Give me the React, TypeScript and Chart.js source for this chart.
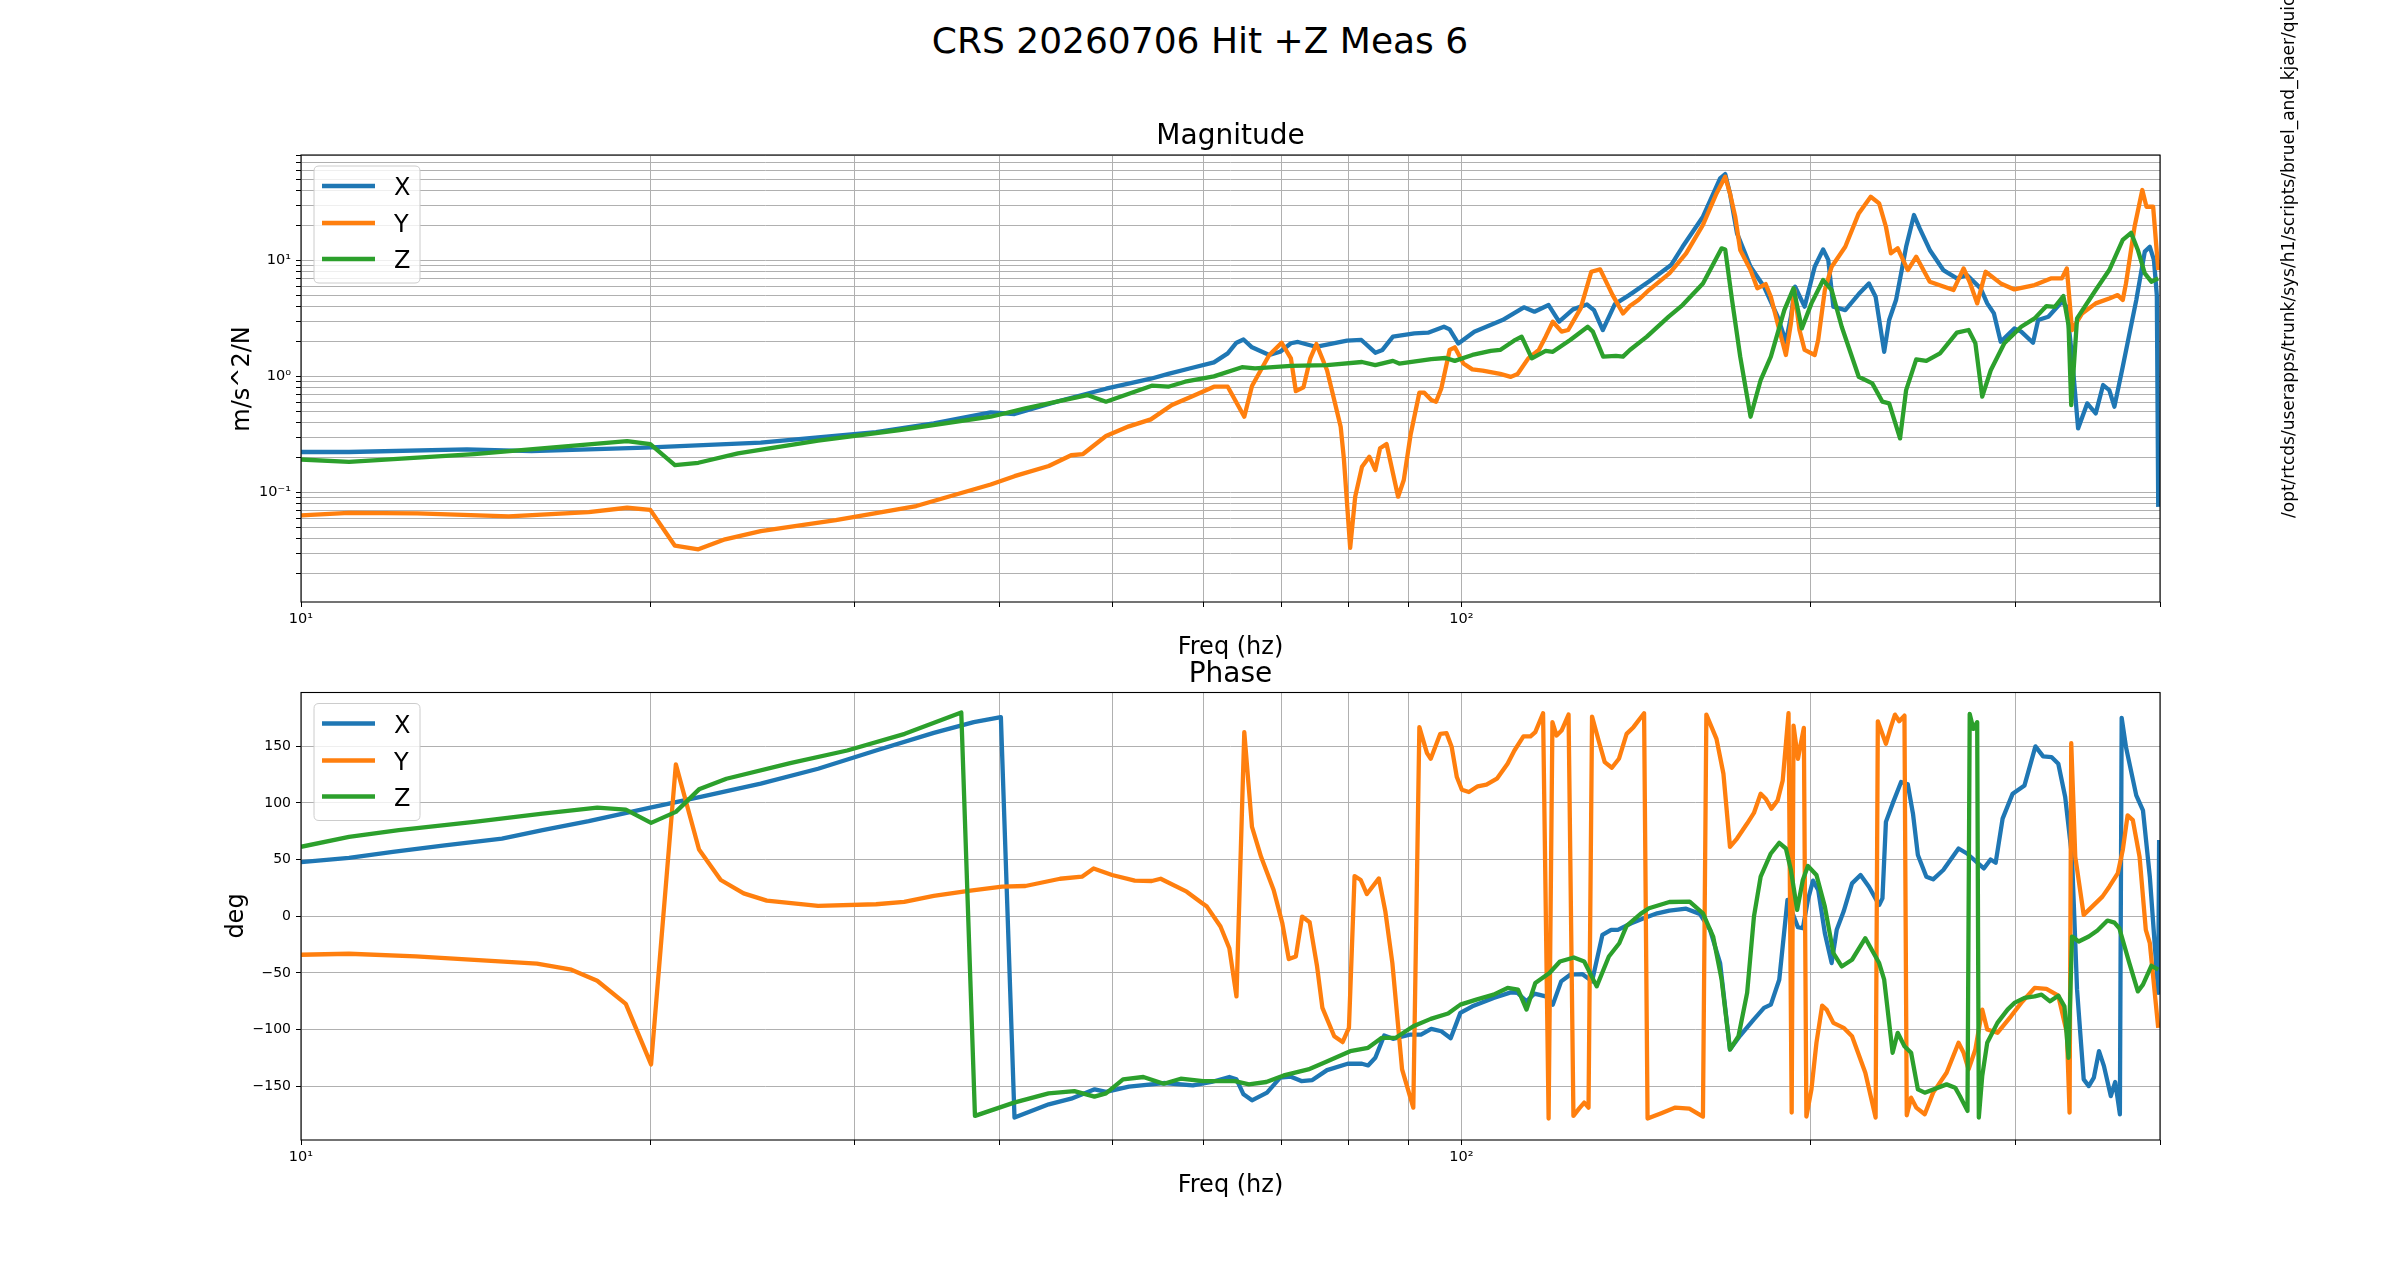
import React, { useEffect, useRef } from 'react';
import { Chart, registerables } from 'chart.js';

Chart.register(...registerables);

// ---------- series meta ----------
const seriesNames = ['X', 'Y', 'Z'];
const seriesColors = ['#1f77b4', '#ff7f0e', '#2ca02c'];

// ---------- magnitude data (m/s^2/N) ----------
const magXFreq = [10, 11.0, 13.9, 15.8, 19.8, 24.9, 27.9, 31.3, 35.1, 39.3, 41.2, 45.1, 49.4, 52.0, 54.0, 55.9, 58.3, 61.2, 62.9, 64.0, 64.9, 66.0, 68.3, 69.8, 71.3, 72.3, 74.9, 79.7, 82.0, 84.3, 85.5, 87.3, 91.1, 93.6, 96.6, 97.7, 99.4, 102.6, 108.5, 113.2, 115.6, 118.9, 121.4, 124.8, 128.3, 130.1, 132.4, 135.6, 139.5, 145.2, 151.6, 155.1, 161.5, 167.1, 168.8, 170.4, 172.8, 177.5, 182.3, 187.3, 190.4, 192.3, 193.9, 197.6, 201.6, 205.0, 207.1, 209.2, 214.2, 220.0, 224.5, 227.5, 231.4, 233.7, 236.9, 241.7, 245.5, 248.3, 253.3, 260.2, 267.3, 272.7, 280.2, 283.9, 287.7, 291.6, 299.6, 303.7, 310.9, 314.1, 320.5, 329.2, 332.5, 335.9, 340.0, 346.2, 352.1, 357.3, 361.7, 365.4, 371.5, 381.6, 388.1, 392.0, 395.2, 397.5, 398.6];
const magXVal = [0.223, 0.223, 0.235, 0.227, 0.243, 0.268, 0.298, 0.331, 0.393, 0.489, 0.474, 0.617, 0.783, 0.88, 0.955, 1.05, 1.17, 1.32, 1.58, 1.95, 2.08, 1.78, 1.53, 1.63, 1.93, 1.98, 1.80, 2.03, 2.06, 1.60, 1.69, 2.20, 2.35, 2.38, 2.68, 2.54, 1.92, 2.43, 3.06, 3.94, 3.61, 4.12, 2.96, 3.78, 4.17, 3.73, 2.51, 4.20, 5.02, 6.6, 9.11, 13.1, 23.8, 50.9, 55.5, 37.8, 17.1, 8.82, 5.93, 3.27, 1.99, 3.27, 5.93, 3.99, 8.82, 12.4, 10.1, 3.99, 3.73, 5.12, 6.33, 4.86, 1.63, 3.06, 4.55, 13.1, 24.6, 18.9, 12.3, 8.25, 7.0, 7.47, 5.74, 4.26, 3.49, 1.99, 2.59, 2.43, 1.95, 3.06, 3.27, 4.40, 3.99, 1.48, 0.356, 0.585, 0.48, 0.842, 0.762, 0.548, 1.21, 4.55, 11.9, 13.1, 10.1, 5.0, 0.075];

const magYFreq = [10, 11.0, 12.6, 15.1, 17.7, 19.1, 20.0, 21.0, 22.0, 23.2, 24.9, 28.9, 33.9, 39.3, 41.2, 44.1, 46.1, 47.2, 49.4, 51.7, 54.0, 56.3, 58.7, 61.2, 62.9, 65.0, 66.0, 68.3, 70.0, 71.3, 72.0, 73.1, 74.1, 75.0, 76.6, 78.7, 79.2, 80.2, 81.0, 82.1, 83.3, 84.3, 85.1, 86.2, 88.2, 89.2, 90.4, 92.0, 92.9, 94.2, 95.1, 96.1, 97.7, 98.7, 100.4, 102.2, 104.3, 108.0, 110.3, 111.8, 114.2, 116.6, 118.2, 119.9, 122.0, 123.6, 126.7, 129.4, 131.7, 135.0, 137.8, 139.7, 142.1, 145.1, 151.1, 156.2, 161.5, 165.9, 168.8, 170.4, 172.2, 173.9, 177.5, 179.9, 182.9, 184.8, 187.3, 190.4, 192.3, 193.6, 195.6, 197.6, 201.6, 203.0, 205.7, 208.5, 214.2, 220.0, 225.3, 229.1, 232.2, 234.5, 237.7, 242.5, 246.6, 253.3, 265.5, 270.9, 274.5, 278.3, 283.0, 291.6, 299.6, 311.9, 322.5, 329.2, 332.5, 335.9, 342.7, 352.1, 361.7, 367.8, 371.5, 373.9, 380.3, 386.2, 389.4, 394.6, 398.6];
const magYVal = [0.0633, 0.0667, 0.066, 0.062, 0.0676, 0.0737, 0.0707, 0.0347, 0.0323, 0.0394, 0.0464, 0.0577, 0.0763, 0.117, 0.138, 0.169, 0.209, 0.214, 0.306, 0.371, 0.426, 0.566, 0.677, 0.815, 0.815, 0.449, 0.825, 1.53, 1.95, 1.43, 0.747, 0.804, 1.43, 1.90, 1.13, 0.368, 0.196, 0.0333, 0.0918, 0.166, 0.203, 0.156, 0.240, 0.261, 0.0918, 0.128, 0.312, 0.723, 0.723, 0.625, 0.605, 0.788, 1.69, 1.78, 1.29, 1.15, 1.12, 1.05, 0.99, 1.05, 1.43, 1.69, 2.20, 2.96, 2.43, 2.51, 3.86, 7.98, 8.37, 5.02, 3.49, 4.04, 4.55, 5.55, 7.72, 11.5, 20.2, 37.8, 52.6, 37.8, 23.8, 12.3, 8.25, 5.74, 6.25, 4.86, 2.86, 1.53, 2.86, 5.55, 2.51, 1.69, 1.53, 2.06, 5.55, 8.82, 13.1, 25.4, 35.4, 31.0, 19.5, 11.5, 12.7, 8.25, 10.75, 6.55, 5.55, 8.53, 6.33, 4.26, 7.98, 6.33, 5.62, 6.13, 7.0, 7.0, 8.53, 2.51, 3.49, 4.26, 4.70, 5.02, 4.55, 6.33, 19.5, 40.4, 29.0, 29.0, 8.25];

const magZFreq = [10, 11.0, 14.1, 19.1, 20.0, 21.0, 22.0, 23.8, 27.9, 32.8, 39.3, 42.1, 47.6, 49.4, 54.1, 55.9, 57.8, 61.2, 64.7, 66.4, 71.3, 76.6, 82.1, 84.3, 87.3, 88.4, 94.2, 96.9, 98.7, 102.2, 106.0, 108.0, 111.0, 112.7, 115.0, 118.2, 119.9, 124.1, 128.5, 129.8, 132.5, 135.9, 137.8, 139.7, 144.5, 150.9, 155.1, 161.5, 167.6, 168.8, 171.1, 173.9, 177.5, 181.1, 184.8, 189.8, 193.3, 196.5, 200.3, 205.0, 208.5, 212.7, 220.0, 226.0, 230.6, 233.7, 238.8, 241.7, 246.6, 251.6, 258.5, 267.3, 273.6, 277.3, 281.1, 285.9, 293.7, 303.7, 311.9, 319.3, 324.7, 330.2, 333.6, 335.4, 339.3, 352.1, 361.7, 371.5, 377.7, 382.8, 388.1, 393.2, 398.6];
const magZVal = [0.192, 0.183, 0.214, 0.277, 0.261, 0.172, 0.180, 0.217, 0.279, 0.345, 0.449, 0.530, 0.690, 0.605, 0.831, 0.815, 0.90, 1.0, 1.20, 1.17, 1.23, 1.25, 1.33, 1.25, 1.36, 1.29, 1.41, 1.44, 1.36, 1.53, 1.66, 1.69, 2.03, 2.20, 1.43, 1.66, 1.63, 2.06, 2.68, 2.43, 1.48, 1.50, 1.48, 1.69, 2.20, 3.27, 4.12, 6.33, 12.7, 12.4, 4.55, 1.48, 0.449, 0.93, 1.48, 3.73, 5.74, 2.59, 4.26, 6.77, 5.55, 2.68, 0.993, 0.87, 0.605, 0.585, 0.292, 0.762, 1.40, 1.36, 1.58, 2.38, 2.51, 1.93, 0.668, 1.13, 1.93, 2.68, 3.16, 4.04, 3.98, 4.93, 2.77, 0.566, 3.16, 5.55, 8.25, 15.0, 17.3, 12.3, 7.72, 6.55, 7.0];

// ---------- phase data (deg) ----------
const phXFreq = [10, 11.0, 12.0, 13.3, 14.9, 16.15, 17.7, 20.0, 22.2, 24.9, 27.9, 31.3, 35.1, 38.0, 40.1, 41.2, 44.1, 46.1, 48.3, 49.4, 51.7, 55.4, 58.7, 60.9, 63.1, 64.0, 64.9, 66.0, 68.0, 69.8, 71.3, 72.8, 74.4, 76.6, 79.8, 82.1, 83.1, 84.3, 85.8, 87.3, 90.4, 92.3, 94.2, 96.1, 97.9, 99.8, 102.2, 106.6, 110.3, 111.8, 113.8, 115.6, 118.2, 119.9, 121.9, 124.1, 127.1, 129.6, 132.3, 134.6, 136.4, 140.1, 143.6, 147.5, 151.1, 156.2, 160.5, 163.8, 167.1, 170.4, 173.9, 178.6, 182.3, 184.8, 187.9, 191.0, 195.0, 196.9, 198.9, 200.9, 203.0, 205.7, 208.5, 210.6, 213.5, 217.1, 220.8, 224.5, 229.1, 230.6, 232.2, 235.3, 239.3, 242.5, 245.0, 247.4, 251.6, 255.0, 260.2, 268.2, 272.7, 282.0, 285.8, 288.7, 292.7, 298.6, 305.7, 312.4, 317.2, 322.5, 326.9, 331.4, 335.9, 339.3, 343.8, 347.3, 350.8, 354.4, 357.9, 362.8, 366.0, 369.4, 370.7, 373.9, 381.6, 386.7, 392.0, 398.6, 399.3];
const phXVal = [47.8, 51.6, 56.9, 62.5, 68.6, 76, 83.9, 95.9, 105.9, 117, 130.2, 146.3, 161.9, 171.3, 175.7, -177.7, -166, -161, -152.8, -155, -150.4, -147.2, -149.3, -146.3, -141.9, -144, -157.2, -162.5, -155.7, -142.5, -141.6, -145.5, -144.6, -135.8, -130.2, -130.2, -131.7, -124.9, -105.3, -108.2, -104.4, -104.4, -99.4, -101.5, -107.6, -85.3, -79.5, -72.1, -67.2, -67.7, -75.1, -68.3, -70.7, -78, -57.5, -51.6, -51, -57.5, -16.4, -12, -12, -6.2, -1.8, 2.6, 5, 6.7, 2.1, -12, -41.3, -117.6, -105.3, -91.2, -80.9, -78, -56, 14.4, -9.7, -10.6, 14.4, 31.4, 23.2, -15, -41.3, -12, 4.1, 29, 36.4, 26.1, 10, 15.8, 83.3, 99.4, 118.5, 116.4, 90.6, 54, 34.9, 32.6, 40.8, 59.8, 55.4, 42.2, 50.1, 47.2, 86.2, 108.2, 115.5, 149.9, 141.1, 140.5, 134.6, 105.3, 52.5, -64.8, -144, -149.9, -142.5, -119.1, -132.3, -158.7, -146.3, -174.8, 175.1, 149.3, 106.7, 93.5, 34.9, -67.7, 67.2];

const phYFreq = [10, 11.0, 12.56, 15.97, 17.1, 18.0, 19.05, 20.03, 21.04, 22.03, 23.0, 24.07, 25.2, 27.9, 31.3, 33.1, 35.1, 37.6, 40.2, 42.1, 45.1, 47.1, 48.2, 50.0, 52.3, 54.1, 55.06, 57.98, 59.8, 60.35, 62.0, 63.1, 64.0, 65.0, 66.0, 67.2, 68.9, 70.1, 71.0, 72.0, 72.9, 74.0, 75.1, 75.9, 77.7, 79.0, 80.0, 80.9, 81.9, 82.9, 84.9, 86.0, 87.2, 88.9, 90.9, 92.0, 93.4, 94.1, 95.9, 97.1, 98.1, 99.1, 100.1, 101.5, 103.3, 105.1, 107.3, 109.6, 111.1, 113.1, 114.7, 115.8, 117.6, 118.9, 119.8, 120.8, 122.0, 123.7, 124.9, 126.3, 127.6, 128.7, 129.6, 131.3, 132.9, 134.8, 136.7, 138.8, 140.7, 143.7, 144.7, 148.7, 152.9, 157.2, 161.5, 162.6, 165.9, 168.2, 170.4, 172.8, 176.3, 178.7, 181.1, 182.9, 185.0, 187.3, 189.2, 190.4, 191.4, 192.6, 193.3, 195.0, 197.3, 198.3, 200.3, 202.3, 204.6, 206.4, 209.2, 213.5, 217.1, 222.9, 227.5, 228.5, 232.2, 234.5, 236.4, 238.4, 240.9, 242.0, 244.1, 246.6, 250.8, 255.0, 261.9, 268.2, 270.9, 273.6, 277.3, 281.1, 283.9, 289.7, 297.6, 303.7, 311.9, 319.3, 326.9, 332.5, 334.3, 335.4, 338.1, 343.8, 349.6, 356.8, 361.7, 367.8, 371.5, 375.1, 379.0, 384.1, 388.9, 392.0, 398.6];
const phYVal = [-34, -33.1, -35.5, -41.9, -47.2, -56.9, -77.4, -130.8, 134, 58.9, 32, 20.2, 13.8, 9.1, 10.6, 12.6, 17.9, 22.3, 26.1, 26.7, 33.1, 34.9, 42.2, 36.4, 31.4, 31.1, 33.1, 21.7, 11.4, 8.5, -9.1, -28.2, -70.7, 162.5, 78.9, 52.5, 23.2, -6.2, -37.8, -35.5, -0.3, -5.3, -44.3, -80.9, -105.9, -111.1, -98.5, 35.5, 32, 19.6, 33.4, 4.1, -41.3, -135.2, -168.9, 166.9, 144, 139, 161, 161.6, 149.3, 122.9, 111.7, 109.7, 114.7, 116.1, 121.4, 134.6, 146.3, 158.7, 158.7, 162.5, 179.2, -178.6, 171.3, 159.5, 163.9, 178, -176.2, -169.8, -164.5, -168.9, 176.2, 155.1, 136.1, 131.1, 139, 161, 166.9, 179.2, -178.6, -173.9, -168.9, -169.8, -176.8, 178, 156.6, 125.8, 61.3, 68.6, 81.8, 91.2, 108.2, 103.8, 95, 102.3, 119.9, 152.2, 179.2, -173.3, 168.3, 139, 166.3, -176.8, -152.8, -111.7, -78.9, -82.4, -94.1, -98.5, -105.9, -138.1, -177.7, 172.1, 152.2, 166.9, 178, 172.1, 177.1, -175.7, -160.1, -168.9, -174.8, -155.7, -138.1, -111.7, -120.5, -135.2, -117.6, -82.4, -100, -102.9, -88.3, -76.5, -63.3, -64.2, -70.1, -102.9, -173.3, 152.8, 52.5, 1.2, 8.5, 17.3, 26.1, 37.8, 58.4, 89.1, 84.8, 52.5, -12, -23.8, -98.5];

const phZFreq = [10, 11.0, 12.14, 14.1, 16.15, 18.0, 19.05, 20.03, 21.04, 22.03, 23.26, 26.4, 29.56, 33.14, 37.07, 38.09, 41.16, 44.08, 46.4, 48.28, 49.4, 51.1, 53.2, 55.4, 57.3, 59.9, 63.8, 65.6, 67.9, 70.3, 73.8, 76.4, 80.2, 83.1, 85.4, 87.8, 90.9, 94.1, 97.4, 99.8, 103.0, 106.6, 109.6, 111.9, 113.8, 115.8, 119.1, 121.6, 125.0, 127.6, 130.8, 134.0, 136.8, 138.8, 142.7, 145.1, 151.1, 157.3, 161.5, 164.8, 167.6, 170.4, 173.3, 176.3, 178.7, 181.1, 184.8, 187.9, 190.4, 192.3, 194.7, 196.9, 198.9, 202.3, 205.7, 209.2, 212.7, 217.1, 222.9, 229.1, 231.4, 235.3, 237.7, 240.9, 244.1, 247.4, 250.8, 261.9, 266.4, 268.9, 273.0, 274.2, 276.2, 278.3, 279.2, 281.1, 283.9, 289.7, 295.6, 299.6, 305.7, 311.9, 316.2, 321.6, 326.9, 330.9, 333.6, 335.9, 340.4, 347.3, 353.3, 360.4, 365.4, 369.0, 376.4, 382.8, 386.7, 393.2, 398.6];
const phZVal = [61.3, 70.1, 76, 83.3, 90.6, 95.9, 94.1, 82.4, 92.1, 112, 121.4, 135.2, 146.3, 161, 179.8, -176.2, -164.5, -156.3, -154.3, -159.2, -156.3, -144, -141.9, -147.8, -143.4, -145.5, -145.5, -148.4, -146.3, -140.5, -135.2, -128.7, -119.1, -116.1, -107.3, -107.3, -97.1, -90.6, -85.9, -78, -73.6, -69.2, -63.3, -64.8, -82.4, -58.9, -50.1, -39.9, -36.4, -39.9, -61.9, -35.5, -23.8, -8.5, 2.1, 7, 12.6, 12.9, 2.6, -17.9, -56, -117.6, -105.9, -67.7, -0.3, 34.9, 55.4, 64.8, 59.8, 40.8, 5.6, 32, 44.3, 36.4, 8.5, -32.6, -44.3, -38.4, -19.4, -41.3, -56, -120.5, -102.9, -114.7, -120.5, -152.8, -155.7, -148.4, -151.3, -158.7, -171.8, 178.6, 165.4, 171.3, -177.7, -141, -111.7, -94.1, -82.4, -76.5, -72.1, -70.7, -69.2, -75.1, -70.1, -79.5, -124.9, -17.9, -22.3, -17.9, -12.6, -3.8, -5.6, -10.6, -41.3, -66.3, -60.4, -43.7, -47.2];

// ---------- axes ----------
const freqRange = [10, 400];
const magRange = [0.01135, 81];
const phaseRange = [-197.5, 197.5];
const freqTicks = [10, 20, 30, 40, 50, 60, 70, 80, 90, 100, 200, 300, 400];
const magTicks = [0.02, 0.03, 0.04, 0.05, 0.06, 0.07, 0.08, 0.09, 0.1, 0.2, 0.3, 0.4, 0.5, 0.6, 0.7, 0.8, 0.9, 1, 2, 3, 4, 5, 6, 7, 8, 9, 10, 20, 30, 40, 50, 60, 70, 80];
const phaseTicks = [-150, -100, -50, 0, 50, 100, 150];

const FONT = '"DejaVu Sans", "Liberation Sans", sans-serif';

const SUP: Record<string, string> = { '-': '\u207B', '0': '\u2070', '1': '\u00B9', '2': '\u00B2', '3': '\u00B3', '4': '\u2074', '5': '\u2075', '6': '\u2076', '7': '\u2077', '8': '\u2078', '9': '\u2079' };

function decadeLabel(v: number): string {
  const e = Math.log10(v);
  const r = Math.round(e);
  if (Math.abs(e - r) > 1e-9) return '';
  return '10' + String(r).split('').map((c) => SUP[c]).join('');
}

function phaseLabel(v: number): string {
  return v < 0 ? '\u2212' + Math.abs(v) : String(v);
}

function pairs(f: number[], v: number[]) {
  return f.map((x, i) => ({ x, y: v[i] }));
}

const framePlugin = {
  id: 'mplFrame',
  afterDatasetsDraw(chart: any) {
    const { ctx, chartArea: a } = chart;
    ctx.save();
    ctx.strokeStyle = '#000';
    ctx.lineWidth = 1.1;
    ctx.strokeRect(a.left, a.top, a.right - a.left, a.bottom - a.top);
    ctx.restore();
  },
};

const legendPlugin = {
  id: 'mplLegend',
  afterDatasetsDraw(chart: any) {
    const { ctx, chartArea: a } = chart;
    const x0 = a.left + 13;
    const y0 = a.top + 11;
    const w = 106;
    const h = 117;
    const r = 5;
    ctx.save();
    ctx.beginPath();
    ctx.moveTo(x0 + r, y0);
    ctx.lineTo(x0 + w - r, y0);
    ctx.quadraticCurveTo(x0 + w, y0, x0 + w, y0 + r);
    ctx.lineTo(x0 + w, y0 + h - r);
    ctx.quadraticCurveTo(x0 + w, y0 + h, x0 + w - r, y0 + h);
    ctx.lineTo(x0 + r, y0 + h);
    ctx.quadraticCurveTo(x0, y0 + h, x0, y0 + h - r);
    ctx.lineTo(x0, y0 + r);
    ctx.quadraticCurveTo(x0, y0, x0 + r, y0);
    ctx.closePath();
    ctx.fillStyle = 'rgba(255,255,255,0.8)';
    ctx.fill();
    ctx.strokeStyle = '#cccccc';
    ctx.lineWidth = 1;
    ctx.stroke();
    const rows = [20, 57, 93];
    seriesNames.forEach((name, i) => {
      const ry = y0 + rows[i];
      ctx.beginPath();
      ctx.strokeStyle = seriesColors[i];
      ctx.lineWidth = 4.3;
      ctx.lineCap = 'butt';
      ctx.moveTo(a.left + 21, ry);
      ctx.lineTo(a.left + 74, ry);
      ctx.stroke();
      ctx.fillStyle = '#000';
      ctx.font = `24px ${FONT}`;
      ctx.textBaseline = 'alphabetic';
      ctx.textAlign = 'left';
      ctx.fillText(name, a.left + 93, ry + 9);
    });
    ctx.restore();
  },
};

function makeDatasets(list: { f: number[]; v: number[] }[]) {
  return list.map((s, i) => ({
    label: seriesNames[i],
    data: pairs(s.f, s.v),
    borderColor: seriesColors[i],
    backgroundColor: seriesColors[i],
    borderWidth: 4.3,
    pointRadius: 0,
    pointHoverRadius: 0,
    tension: 0,
    fill: false,
    borderJoinStyle: 'round',
    borderCapStyle: 'butt',
    clip: 0,
    order: 3 - i,
  }));
}

function xScale() {
  return {
    type: 'logarithmic',
    min: freqRange[0],
    max: freqRange[1],
    afterBuildTicks: (s: any) => {
      s.ticks = freqTicks.map((v) => ({ value: v }));
    },
    afterFit: (s: any) => {
      s.height = 30;
    },
    ticks: {
      autoSkip: false,
      maxRotation: 0,
      minRotation: 0,
      padding: 4,
      color: '#000',
      font: { family: FONT, size: 14.5 },
      callback: (v: number) => decadeLabel(v),
    },
    grid: { color: '#b0b0b0', lineWidth: 1, drawTicks: true, tickLength: 5, tickColor: '#000', tickWidth: 1 },
    border: { display: false },
  };
}

function baseOptions(padTop: number, padBottom: number, yScale: any) {
  return {
    animation: false,
    responsive: false,
    maintainAspectRatio: false,
    events: [],
    layout: { padding: { left: 221, right: 240, top: padTop, bottom: padBottom } },
    plugins: { legend: { display: false }, tooltip: { enabled: false }, title: { display: false } },
    scales: { x: xScale(), y: yScale },
  };
}

function magConfig(): any {
  return {
    type: 'line',
    data: {
      datasets: makeDatasets([
        { f: magXFreq, v: magXVal },
        { f: magYFreq, v: magYVal },
        { f: magZFreq, v: magZVal },
      ]),
    },
    options: baseOptions(55, 8, {
      type: 'logarithmic',
      min: magRange[0],
      max: magRange[1],
      afterBuildTicks: (s: any) => {
        s.ticks = magTicks.map((v) => ({ value: v }));
      },
      afterFit: (s: any) => {
        s.width = 80;
      },
      ticks: {
        autoSkip: false,
        padding: 5,
        color: '#000',
        font: { family: FONT, size: 14.5 },
        callback: (v: number) => decadeLabel(v),
      },
      grid: { color: '#b0b0b0', lineWidth: 1, drawTicks: true, tickLength: 5, tickColor: '#000', tickWidth: 1 },
      border: { display: false },
    }),
    plugins: [framePlugin, legendPlugin],
  };
}

function phaseConfig(): any {
  return {
    type: 'line',
    data: {
      datasets: makeDatasets([
        { f: phXFreq, v: phXVal },
        { f: phYFreq, v: phYVal },
        { f: phZFreq, v: phZVal },
      ]),
    },
    options: baseOptions(32.5, 30, {
      type: 'linear',
      min: phaseRange[0],
      max: phaseRange[1],
      afterBuildTicks: (s: any) => {
        s.ticks = phaseTicks.map((v) => ({ value: v }));
      },
      afterFit: (s: any) => {
        s.width = 80;
      },
      ticks: {
        autoSkip: false,
        padding: 5,
        color: '#000',
        font: { family: FONT, size: 14 },
        callback: (v: number) => phaseLabel(v),
      },
      grid: { color: '#b0b0b0', lineWidth: 1, drawTicks: true, tickLength: 5, tickColor: '#000', tickWidth: 1 },
      border: { display: false },
    }),
    plugins: [framePlugin, legendPlugin],
  };
}

function Label(props: { text: string; left: number; top: number; width: number; size: number; align?: string }) {
  return (
    <div
      style={{
        position: 'absolute',
        left: props.left,
        top: props.top,
        width: props.width,
        fontSize: props.size,
        lineHeight: `${props.size}px`,
        textAlign: (props.align || 'center') as any,
        fontFamily: FONT,
        color: '#000',
        whiteSpace: 'nowrap',
        zIndex: 2,
      }}
    >
      {props.text}
    </div>
  );
}

function VLabel(props: { text: string; cx: number; cy: number; size: number }) {
  const w = 300;
  return (
    <div
      style={{
        position: 'absolute',
        left: props.cx - w / 2,
        top: props.cy - props.size / 2,
        width: w,
        height: props.size,
        fontSize: props.size,
        lineHeight: `${props.size}px`,
        textAlign: 'center',
        fontFamily: FONT,
        color: '#000',
        whiteSpace: 'nowrap',
        transform: 'rotate(-90deg)',
        zIndex: 2,
      }}
    >
      {props.text}
    </div>
  );
}

export default function App() {
  const magRef = useRef<HTMLCanvasElement>(null);
  const phRef = useRef<HTMLCanvasElement>(null);

  useEffect(() => {
    const c1 = new Chart(magRef.current as HTMLCanvasElement, magConfig());
    const c2 = new Chart(phRef.current as HTMLCanvasElement, phaseConfig());
    return () => {
      c1.destroy();
      c2.destroy();
    };
  }, []);

  const plotLeft = 301;
  const plotWidth = 2160 - 301;

  return (
    <div
      style={{
        position: 'absolute',
        left: 0,
        top: 0,
        width: 2400,
        height: 1281,
        overflow: 'hidden',
        background: '#ffffff',
      }}
    >
      <canvas
        ref={magRef}
        width={2400}
        height={540}
        style={{ position: 'absolute', left: 0, top: 100, width: 2400, height: 540 }}
      />
      <canvas
        ref={phRef}
        width={2400}
        height={540}
        style={{ position: 'absolute', left: 0, top: 660, width: 2400, height: 540 }}
      />
      <Label text="CRS 20260706 Hit +Z Meas 6" left={0} top={22.5} width={2400} size={36} />
      <Label text="Magnitude" left={plotLeft} top={121.3} width={plotWidth} size={28} />
      <Label text="Freq (hz)" left={plotLeft} top={633.7} width={plotWidth} size={24} />
      <Label text="Phase" left={plotLeft} top={658.8} width={plotWidth} size={28} />
      <Label text="Freq (hz)" left={plotLeft} top={1171.7} width={plotWidth} size={24} />
      <VLabel text="m/s^2/N" cx={241} cy={378.5} size={24} />
      <VLabel text="deg" cx={235} cy={916} size={24} />
      <div
        style={{
          position: 'absolute',
          left: 2279.5,
          top: 518,
          fontSize: 17,
          lineHeight: '17px',
          fontFamily: FONT,
          color: '#000',
          whiteSpace: 'nowrap',
          transformOrigin: '0 0',
          transform: 'rotate(-90deg)',
          zIndex: 2,
        }}
      >
        /opt/rtcds/userapps/trunk/sys/h1/scripts/bruel_and_kjaer/quick_plot.py
      </div>
    </div>
  );
}
